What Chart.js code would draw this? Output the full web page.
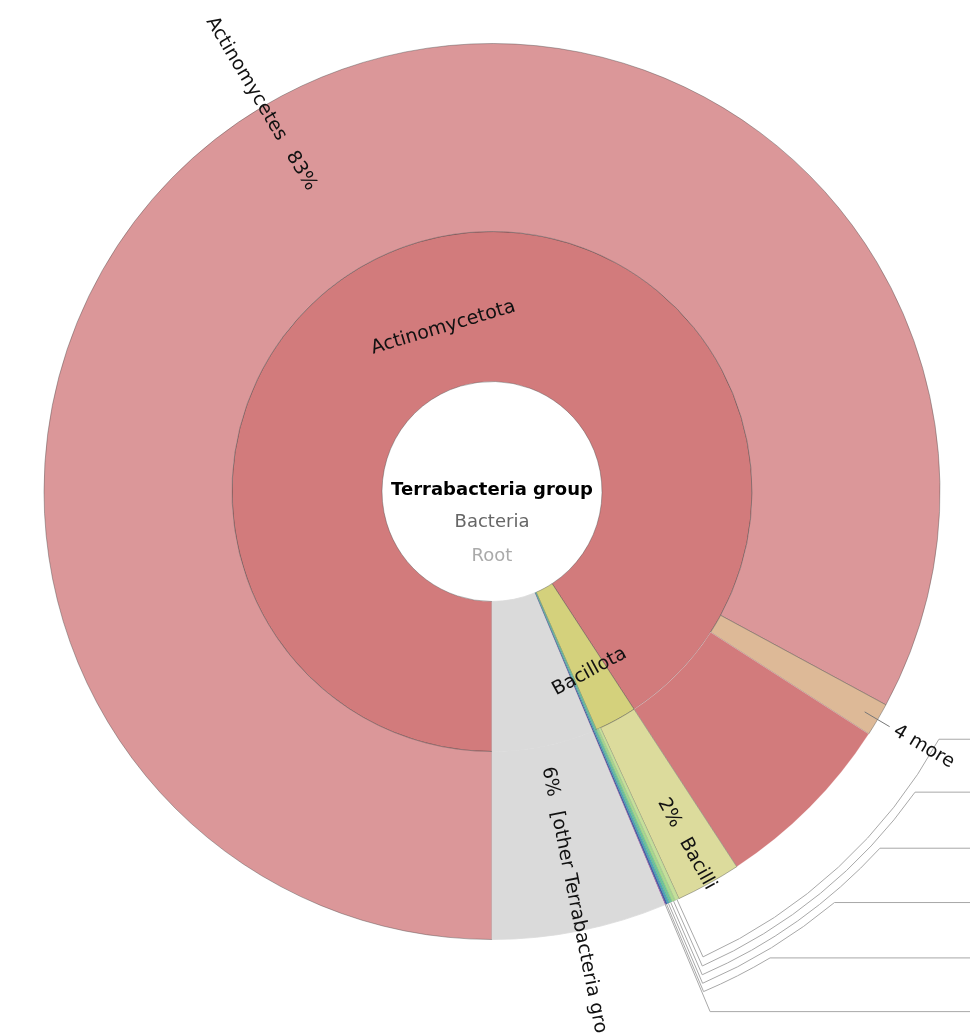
<!DOCTYPE html>
<html>
<head>
<meta charset="utf-8">
<title>Terrabacteria group</title>
<script src="https://cdn.jsdelivr.net/npm/chart.js@4.4.1/dist/chart.umd.min.js"></script>
<style>
  html, body { margin: 0; padding: 0; background: #fff; }
  #wrap { position: relative; width: 970px; height: 1033px; }
</style>
</head>
<body>
<div id="wrap"><canvas id="krona"></canvas></div>
<script>
// taxa in drawing order, clockwise starting straight down (percent of Terrabacteria group)
var innerNames = ['Actinomycetota', 'Bacillota', 'Chloroflexota', 'Cyanobacteriota', 'Deinococcota', 'Mycoplasmatota', '[other Terrabacteria group]'];
var innerValues = [90.8, 2.62, 0.1, 0.08, 0.06, 0.04, 6.3];

var outerNames = ['Actinomycetes', '4 more', '', 'Bacilli', 'Clostridia', 'Erysipelotrichia', 'Chloroflexota', 'Cyanobacteriota', 'Deinococcota', 'Mycoplasmatota', '[other Terrabacteria group]'];
var outerValues = [82.9, 1.2, 6.7, 2.35, 0.15, 0.12, 0.1, 0.08, 0.06, 0.04, 6.3];

var centerLines = ['Terrabacteria group', 'Bacteria', 'Root'];

// colours
var innerColors = ['#D27B7C', '#D4D17C', '#6DC69A', '#4AA9B8', '#3F63AE', '#9A4AA6', '#DADADA'];
var outerColors = ['#DB9799', '#DDB997', '#D27B7C', '#DCDB9C', '#C4DF9A', '#A5D88E', '#6DC69A', '#4AA9B8', '#3F63AE', '#9A4AA6', '#DADADA'];

var FONT = '"DejaVu Sans", sans-serif';
var edge = 'rgba(70, 70, 70, 0.5)';

function borders(colors, soft) {
    return colors.map(function (c, i) {
        if (c === '#DADADA') return c;
        if (soft.indexOf(i) >= 0) return 'rgba(255,255,255,0.3)';
        return edge;
    });
}
function widths(values) {
    return values.map(function (v) { return v < 0.5 ? 0.25 : 0.8; });
}

var total = innerValues.reduce(function (a, b) { return a + b; }, 0);
function pct(v) { return Math.round(v / total * 100) + '%'; }

// label placement: ring 0 = outer dataset, ring 1 = inner dataset
var labelStyle = [
    { ring: 1, i: 0, mode: 'tangent', r: 171 },
    { ring: 1, i: 1, mode: 'tangent', r: 205 },
    { ring: 0, i: 0, mode: 'in', r: 352, pct: true },
    { ring: 0, i: 3, mode: 'out', r: 352, pct: true },
    { ring: 0, i: 10, mode: 'out', r: 281, pct: true },
    { ring: 0, i: 1, mode: 'out', r: 468, tick: [433, 462] }
];

// key lines for the tiny wedges (outer ring indices 4..9)
var keyStyle = {
    first: 4,
    radii: [511, 519, 527, 535, 543, 564],
    endAngles: [119, 125.4, 132.6, 140.2, 149.2, null]
};

function norm(a) {
    while (a < 0) a += 2 * Math.PI;
    while (a >= 2 * Math.PI) a -= 2 * Math.PI;
    return a;
}

var kronaText = {
    id: 'kronaText',
    afterDatasetsDraw: function (chart) {
        var ctx = chart.ctx;
        var metas = [chart.getDatasetMeta(0).data, chart.getDatasetMeta(1).data];
        var cx = metas[0][0].x, cy = metas[0][0].y;
        var W = chart.width;

        // key lines
        ctx.save();
        ctx.strokeStyle = '#a8a8a8';
        ctx.lineWidth = 1;
        keyStyle.radii.forEach(function (r, k) {
            var el = metas[0][keyStyle.first + k];
            var a = norm((el.startAngle + el.endAngle) / 2);
            var r0 = el.outerRadius;
            ctx.beginPath();
            ctx.moveTo(cx + r0 * Math.cos(a), cy + r0 * Math.sin(a));
            ctx.lineTo(cx + r * Math.cos(a), cy + r * Math.sin(a));
            var e = keyStyle.endAngles[k];
            var ae = a;
            if (e !== null) {
                ae = norm((e - 90) * Math.PI / 180);
                ctx.arc(cx, cy, r, a, ae, true);
            }
            ctx.lineTo(W, cy + r * Math.sin(ae));
            ctx.stroke();
        });
        ctx.restore();

        ctx.save();
        ctx.fillStyle = '#111';
        ctx.textBaseline = 'middle';
        ctx.font = '19px ' + FONT;
        labelStyle.forEach(function (s) {
            var el = metas[s.ring][s.i];
            var name = s.ring === 0 ? outerNames[s.i] : innerNames[s.i];
            var val = s.ring === 0 ? outerValues[s.i] : innerValues[s.i];
            var a = norm((el.startAngle + el.endAngle) / 2);
            var theta = norm(a + Math.PI / 2);
            ctx.save();
            if (s.mode === 'tangent') {
                ctx.translate(cx + s.r * Math.cos(a), cy + s.r * Math.sin(a));
                var bottom = theta > Math.PI / 2 && theta < Math.PI * 1.5;
                ctx.rotate(bottom ? theta - Math.PI : theta);
                ctx.textAlign = 'center';
                ctx.fillText(name, 0, 0);
            } else if (s.mode === 'out') {
                if (s.tick) {
                    ctx.strokeStyle = '#777';
                    ctx.lineWidth = 1;
                    ctx.beginPath();
                    ctx.moveTo(cx + s.tick[0] * Math.cos(a), cy + s.tick[0] * Math.sin(a));
                    ctx.lineTo(cx + s.tick[1] * Math.cos(a), cy + s.tick[1] * Math.sin(a));
                    ctx.stroke();
                }
                ctx.translate(cx, cy);
                ctx.rotate(a);
                ctx.textAlign = 'left';
                var x = s.r;
                if (s.pct) {
                    var p = pct(val);
                    ctx.fillText(p, x, 0);
                    x += ctx.measureText(p).width + 15;
                }
                ctx.fillText(name, x, 0);
            } else {
                ctx.translate(cx, cy);
                ctx.rotate(a + Math.PI);
                ctx.textAlign = 'right';
                var xr = -s.r;
                if (s.pct) {
                    var q = pct(val);
                    ctx.fillText(q, xr, 0);
                    xr -= ctx.measureText(q).width + 16;
                }
                ctx.fillText(name, xr, 0);
            }
            ctx.restore();
        });

        // centre
        ctx.textAlign = 'center';
        ctx.font = 'bold 18px ' + FONT;
        ctx.fillStyle = '#000';
        ctx.fillText(centerLines[0], cx, cy - 1);
        ctx.font = '18px ' + FONT;
        ctx.fillStyle = '#666';
        ctx.fillText(centerLines[1], cx, cy + 31);
        ctx.fillStyle = '#aaa';
        ctx.fillText(centerLines[2], cx, cy + 65);
        ctx.restore();
    }
};

var ctx1 = document.getElementById('krona').getContext('2d');
var myChart = new Chart(ctx1, {
    type: 'doughnut',
    data: {
        labels: outerNames,
        datasets: [{
            data: outerValues,
            backgroundColor: outerColors,
            borderColor: borders(outerColors, [2]),
            borderWidth: widths(outerValues),
            weight: 188
        },
        {
            data: innerValues,
            backgroundColor: innerColors,
            borderColor: borders(innerColors, []),
            borderWidth: widths(innerValues),
            weight: 150
        }]
    },
    options: {
        responsive: true,
        maintainAspectRatio: false,
        animation: false,
        events: [],
        rotation: 180,
        radius: 448,
        cutout: '24.554%',
        layout: {
            padding: { left: 44, right: 30, top: 43, bottom: 93 }
        },
        plugins: {
            legend: { display: false },
            tooltip: { enabled: false }
        }
    },
    plugins: [kronaText]
});
</script>
</body>
</html>
